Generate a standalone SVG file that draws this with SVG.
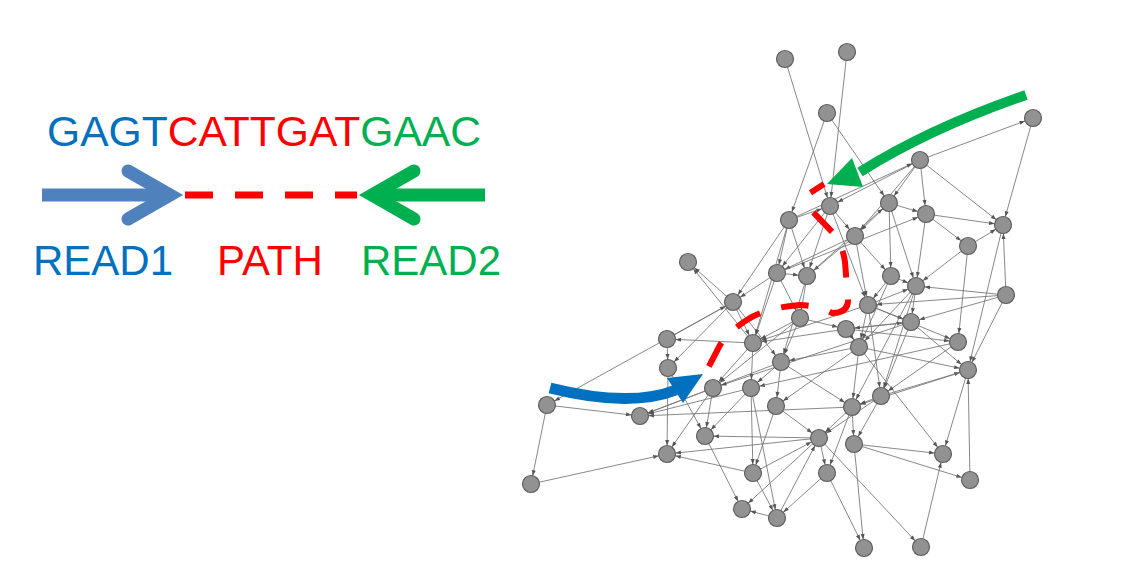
<svg xmlns="http://www.w3.org/2000/svg" width="1134" height="570" viewBox="0 0 1134 570">
<style>
.e{stroke:#737373;stroke-width:0.85;fill:none;marker-end:url(#ah)}
.n{fill:#929292;stroke:#5e5e5e;stroke-width:1.2}
.t{font-family:"Liberation Sans",Arial,sans-serif;font-size:42px}
</style>
<defs>
<marker id="ah" markerUnits="userSpaceOnUse" viewBox="0 -3 20 6" markerWidth="20" markerHeight="6" refX="17.5" refY="0" orient="auto">
<path d="M3.5,-2 L9,0 L3.5,2 z" fill="#555"/>
</marker>
</defs>
<rect width="1134" height="570" fill="#fff"/>
<g id="legend">
<g id="seq"><text class="t" x="47" y="146" textLength="434" lengthAdjust="spacingAndGlyphs"><tspan fill="#0070C0">GAGT</tspan><tspan fill="#FF0000">CATTGAT</tspan><tspan fill="#00B050">GAAC</tspan></text></g>
<g id="read1-arrow"><line x1="42" y1="195" x2="170" y2="195" stroke="#4F81BD" stroke-width="13"/><polyline points="128,171 170,195 128,219" fill="none" stroke="#4F81BD" stroke-width="13" stroke-linecap="round"/></g>
<g id="path-dash"><line x1="185" y1="195" x2="357" y2="195" stroke="#FF0000" stroke-width="7" stroke-dasharray="28 22"/></g>
<g id="read2-arrow"><line x1="372" y1="195" x2="485" y2="195" stroke="#00B050" stroke-width="13"/><polyline points="414,171 372,195 414,219" fill="none" stroke="#00B050" stroke-width="13" stroke-linecap="round"/></g>
<g id="lbl-read1"><text class="t" x="33" y="275" fill="#0070C0">READ1</text></g>
<g id="lbl-path"><text class="t" x="217" y="275" fill="#FF0000">PATH</text></g>
<g id="lbl-read2"><text class="t" x="361" y="275" fill="#00B050">READ2</text></g>
</g>
<g id="connectors">
<line class="e" x1="785" y1="59" x2="830" y2="206"/>
<line class="e" x1="847" y1="52" x2="830" y2="206"/>
<line class="e" x1="827" y1="113" x2="789" y2="220"/>
<line class="e" x1="827" y1="113" x2="889" y2="203"/>
<line class="e" x1="920" y1="160" x2="1033" y2="118"/>
<line class="e" x1="1033" y1="118" x2="1003" y2="225"/>
<line class="e" x1="920" y1="160" x2="830" y2="206"/>
<line class="e" x1="789" y1="220" x2="920" y2="160"/>
<line class="e" x1="920" y1="160" x2="889" y2="203"/>
<line class="e" x1="920" y1="160" x2="855" y2="236"/>
<line class="e" x1="920" y1="160" x2="926" y2="214"/>
<line class="e" x1="920" y1="160" x2="1003" y2="225"/>
<line class="e" x1="889" y1="203" x2="926" y2="214"/>
<line class="e" x1="926" y1="214" x2="1003" y2="225"/>
<line class="e" x1="926" y1="214" x2="968" y2="246"/>
<line class="e" x1="968" y1="246" x2="1003" y2="225"/>
<line class="e" x1="968" y1="246" x2="916" y2="286"/>
<line class="e" x1="926" y1="214" x2="916" y2="286"/>
<line class="e" x1="1006" y1="295" x2="1003" y2="225"/>
<line class="e" x1="1003" y1="225" x2="968" y2="370"/>
<line class="e" x1="1006" y1="295" x2="968" y2="370"/>
<line class="e" x1="968" y1="246" x2="958" y2="342"/>
<line class="e" x1="1006" y1="295" x2="916" y2="286"/>
<line class="e" x1="1006" y1="295" x2="868" y2="305"/>
<line class="e" x1="1006" y1="295" x2="911" y2="322"/>
<line class="e" x1="733" y1="302" x2="547" y2="405"/>
<line class="e" x1="547" y1="405" x2="640" y2="416"/>
<line class="e" x1="547" y1="405" x2="531" y2="484"/>
<line class="e" x1="531" y1="484" x2="667" y2="454"/>
<line class="e" x1="667" y1="339" x2="733" y2="302"/>
<line class="e" x1="753" y1="343" x2="667" y2="339"/>
<line class="e" x1="668" y1="368" x2="667" y2="454"/>
<line class="e" x1="668" y1="368" x2="705" y2="436"/>
<line class="e" x1="733" y1="302" x2="668" y2="368"/>
<line class="e" x1="819" y1="438" x2="667" y2="454"/>
<line class="e" x1="753" y1="473" x2="667" y2="454"/>
<line class="e" x1="819" y1="438" x2="705" y2="436"/>
<line class="e" x1="705" y1="436" x2="742" y2="509"/>
<line class="e" x1="777" y1="518" x2="742" y2="509"/>
<line class="e" x1="776" y1="406" x2="753" y2="473"/>
<line class="e" x1="751" y1="388" x2="777" y2="518"/>
<line class="e" x1="827" y1="473" x2="777" y2="518"/>
<line class="e" x1="777" y1="518" x2="819" y2="438"/>
<line class="e" x1="852" y1="407" x2="640" y2="416"/>
<line class="e" x1="713" y1="388" x2="640" y2="416"/>
<line class="e" x1="751" y1="388" x2="640" y2="416"/>
<line class="e" x1="781" y1="362" x2="640" y2="416"/>
<line class="e" x1="713" y1="388" x2="667" y2="454"/>
<line class="e" x1="751" y1="388" x2="705" y2="436"/>
<line class="e" x1="713" y1="388" x2="705" y2="436"/>
<line class="e" x1="751" y1="388" x2="753" y2="473"/>
<line class="e" x1="819" y1="438" x2="742" y2="509"/>
<line class="e" x1="753" y1="473" x2="777" y2="518"/>
<line class="e" x1="776" y1="406" x2="819" y2="438"/>
<line class="e" x1="753" y1="473" x2="819" y2="438"/>
<line class="e" x1="854" y1="444" x2="943" y2="454"/>
<line class="e" x1="854" y1="444" x2="970" y2="480"/>
<line class="e" x1="859" y1="347" x2="943" y2="454"/>
<line class="e" x1="968" y1="370" x2="943" y2="454"/>
<line class="e" x1="970" y1="480" x2="968" y2="370"/>
<line class="e" x1="854" y1="444" x2="864" y2="548"/>
<line class="e" x1="819" y1="438" x2="921" y2="547"/>
<line class="e" x1="827" y1="473" x2="864" y2="548"/>
<line class="e" x1="921" y1="547" x2="943" y2="454"/>
<line class="e" x1="852" y1="407" x2="854" y2="444"/>
<line class="e" x1="868" y1="305" x2="916" y2="286"/>
<line class="e" x1="916" y1="286" x2="911" y2="322"/>
<line class="e" x1="846" y1="329" x2="911" y2="322"/>
<line class="e" x1="911" y1="322" x2="968" y2="370"/>
<line class="e" x1="846" y1="329" x2="958" y2="342"/>
<line class="e" x1="859" y1="347" x2="968" y2="370"/>
<line class="e" x1="881" y1="396" x2="968" y2="370"/>
<line class="e" x1="958" y1="342" x2="881" y2="396"/>
<line class="e" x1="911" y1="322" x2="881" y2="396"/>
<line class="e" x1="868" y1="305" x2="881" y2="396"/>
<line class="e" x1="868" y1="305" x2="958" y2="342"/>
<line class="e" x1="868" y1="305" x2="911" y2="322"/>
<line class="e" x1="859" y1="347" x2="852" y2="407"/>
<line class="e" x1="881" y1="396" x2="852" y2="407"/>
<line class="e" x1="789" y1="220" x2="830" y2="206"/>
<line class="e" x1="789" y1="220" x2="777" y2="273"/>
<line class="e" x1="789" y1="220" x2="807" y2="276"/>
<line class="e" x1="789" y1="220" x2="733" y2="302"/>
<line class="e" x1="789" y1="220" x2="753" y2="343"/>
<line class="e" x1="830" y1="206" x2="855" y2="236"/>
<line class="e" x1="830" y1="206" x2="777" y2="273"/>
<line class="e" x1="830" y1="206" x2="807" y2="276"/>
<line class="e" x1="830" y1="206" x2="868" y2="305"/>
<line class="e" x1="889" y1="203" x2="855" y2="236"/>
<line class="e" x1="889" y1="203" x2="891" y2="276"/>
<line class="e" x1="889" y1="203" x2="916" y2="286"/>
<line class="e" x1="855" y1="236" x2="777" y2="273"/>
<line class="e" x1="855" y1="236" x2="807" y2="276"/>
<line class="e" x1="855" y1="236" x2="891" y2="276"/>
<line class="e" x1="855" y1="236" x2="868" y2="305"/>
<line class="e" x1="891" y1="276" x2="916" y2="286"/>
<line class="e" x1="777" y1="273" x2="807" y2="276"/>
<line class="e" x1="733" y1="302" x2="688" y2="262"/>
<line class="e" x1="753" y1="343" x2="688" y2="262"/>
<line class="e" x1="800" y1="318" x2="753" y2="343"/>
<line class="e" x1="800" y1="318" x2="713" y2="388"/>
<line class="e" x1="800" y1="318" x2="781" y2="362"/>
<line class="e" x1="733" y1="302" x2="753" y2="343"/>
<line class="e" x1="733" y1="302" x2="781" y2="362"/>
<line class="e" x1="753" y1="343" x2="713" y2="388"/>
<line class="e" x1="753" y1="343" x2="751" y2="388"/>
<line class="e" x1="781" y1="362" x2="776" y2="406"/>
<line class="e" x1="781" y1="362" x2="751" y2="388"/>
<line class="e" x1="667" y1="339" x2="668" y2="368"/>
<line class="e" x1="846" y1="329" x2="753" y2="343"/>
<line class="e" x1="868" y1="305" x2="753" y2="343"/>
<line class="e" x1="777" y1="273" x2="733" y2="302"/>
<line class="e" x1="777" y1="273" x2="753" y2="343"/>
<line class="e" x1="807" y1="276" x2="781" y2="362"/>
<line class="e" x1="800" y1="318" x2="846" y2="329"/>
<line class="e" x1="846" y1="329" x2="859" y2="347"/>
<line class="e" x1="868" y1="305" x2="859" y2="347"/>
<line class="e" x1="891" y1="276" x2="859" y2="347"/>
<line class="e" x1="916" y1="286" x2="859" y2="347"/>
<line class="e" x1="859" y1="347" x2="781" y2="362"/>
<line class="e" x1="859" y1="347" x2="776" y2="406"/>
<line class="e" x1="881" y1="396" x2="819" y2="438"/>
<line class="e" x1="852" y1="407" x2="819" y2="438"/>
<line class="e" x1="881" y1="396" x2="854" y2="444"/>
<line class="e" x1="852" y1="407" x2="827" y2="473"/>
<line class="e" x1="819" y1="438" x2="827" y2="473"/>
<line class="e" x1="781" y1="362" x2="852" y2="407"/>
<line class="e" x1="911" y1="322" x2="846" y2="329"/>
<line class="e" x1="891" y1="276" x2="868" y2="305"/>
<line class="e" x1="807" y1="276" x2="800" y2="318"/>
<line class="e" x1="777" y1="273" x2="800" y2="318"/>
<line class="e" x1="916" y1="286" x2="852" y2="407"/>
<line class="e" x1="916" y1="286" x2="881" y2="396"/>
<line class="e" x1="777" y1="273" x2="926" y2="214"/>
<line class="e" x1="807" y1="276" x2="889" y2="203"/>
<line class="e" x1="958" y1="342" x2="751" y2="388"/>
<line class="e" x1="911" y1="322" x2="713" y2="388"/>
<line class="e" x1="968" y1="370" x2="852" y2="407"/>
</g>
<g id="nodes">
<g id="n1"><circle class="n" cx="785" cy="59" r="8.5"/></g>
<g id="n2"><circle class="n" cx="847" cy="52" r="8.5"/></g>
<g id="n3"><circle class="n" cx="827" cy="113" r="8.5"/></g>
<g id="n4"><circle class="n" cx="1033" cy="118" r="8.5"/></g>
<g id="n5"><circle class="n" cx="920" cy="160" r="8.5"/></g>
<g id="n6"><circle class="n" cx="789" cy="220" r="8.5"/></g>
<g id="n7"><circle class="n" cx="830" cy="206" r="8.5"/></g>
<g id="n8"><circle class="n" cx="889" cy="203" r="8.5"/></g>
<g id="n9"><circle class="n" cx="926" cy="214" r="8.5"/></g>
<g id="n10"><circle class="n" cx="1003" cy="225" r="8.5"/></g>
<g id="n11"><circle class="n" cx="855" cy="236" r="8.5"/></g>
<g id="n12"><circle class="n" cx="968" cy="246" r="8.5"/></g>
<g id="n13"><circle class="n" cx="688" cy="262" r="8.5"/></g>
<g id="n14"><circle class="n" cx="777" cy="273" r="8.5"/></g>
<g id="n15"><circle class="n" cx="807" cy="276" r="8.5"/></g>
<g id="n16"><circle class="n" cx="891" cy="276" r="8.5"/></g>
<g id="n17"><circle class="n" cx="916" cy="286" r="8.5"/></g>
<g id="n18"><circle class="n" cx="1006" cy="295" r="8.5"/></g>
<g id="n19"><circle class="n" cx="733" cy="302" r="8.5"/></g>
<g id="n20"><circle class="n" cx="800" cy="318" r="8.5"/></g>
<g id="n21"><circle class="n" cx="868" cy="305" r="8.5"/></g>
<g id="n22"><circle class="n" cx="846" cy="329" r="8.5"/></g>
<g id="n23"><circle class="n" cx="911" cy="322" r="8.5"/></g>
<g id="n24"><circle class="n" cx="667" cy="339" r="8.5"/></g>
<g id="n25"><circle class="n" cx="753" cy="343" r="8.5"/></g>
<g id="n26"><circle class="n" cx="859" cy="347" r="8.5"/></g>
<g id="n27"><circle class="n" cx="958" cy="342" r="8.5"/></g>
<g id="n28"><circle class="n" cx="781" cy="362" r="8.5"/></g>
<g id="n29"><circle class="n" cx="668" cy="368" r="8.5"/></g>
<g id="n30"><circle class="n" cx="968" cy="370" r="8.5"/></g>
<g id="n31"><circle class="n" cx="713" cy="388" r="8.5"/></g>
<g id="n32"><circle class="n" cx="751" cy="388" r="8.5"/></g>
<g id="n33"><circle class="n" cx="881" cy="396" r="8.5"/></g>
<g id="n34"><circle class="n" cx="776" cy="406" r="8.5"/></g>
<g id="n35"><circle class="n" cx="852" cy="407" r="8.5"/></g>
<g id="n36"><circle class="n" cx="547" cy="405" r="8.5"/></g>
<g id="n37"><circle class="n" cx="640" cy="416" r="8.5"/></g>
<g id="n38"><circle class="n" cx="705" cy="436" r="8.5"/></g>
<g id="n39"><circle class="n" cx="819" cy="438" r="8.5"/></g>
<g id="n40"><circle class="n" cx="854" cy="444" r="8.5"/></g>
<g id="n41"><circle class="n" cx="667" cy="454" r="8.5"/></g>
<g id="n42"><circle class="n" cx="753" cy="473" r="8.5"/></g>
<g id="n43"><circle class="n" cx="827" cy="473" r="8.5"/></g>
<g id="n44"><circle class="n" cx="943" cy="454" r="8.5"/></g>
<g id="n45"><circle class="n" cx="970" cy="480" r="8.5"/></g>
<g id="n46"><circle class="n" cx="531" cy="484" r="8.5"/></g>
<g id="n47"><circle class="n" cx="742" cy="509" r="8.5"/></g>
<g id="n48"><circle class="n" cx="777" cy="518" r="8.5"/></g>
<g id="n49"><circle class="n" cx="864" cy="548" r="8.5"/></g>
<g id="n50"><circle class="n" cx="921" cy="547" r="8.5"/></g>
</g>
<g id="overlay">
<path id="red-path" d="M824,184 L810,193 Q804,200 813,212 L836,236 Q843,248 845,262 L848,300 Q848,313 832,313 Q820,306 800,305 Q770,307 750,318 Q730,330 720,345 L704,376" fill="none" stroke="#FF0000" stroke-width="6" stroke-dasharray="27 22" stroke-dashoffset="11"/>
<g id="blue-arrow"><path d="M550,388 Q630,408 676,390" fill="none" stroke="#0070C0" stroke-width="11"/><polygon points="667,378 703,374 683,403" fill="#0070C0"/></g>
<g id="green-arrow"><path d="M1026,95 Q930,128 860,172" fill="none" stroke="#00B050" stroke-width="10"/><polygon points="852,158 827,184 863,187" fill="#00B050"/></g>
</g>
</svg>
